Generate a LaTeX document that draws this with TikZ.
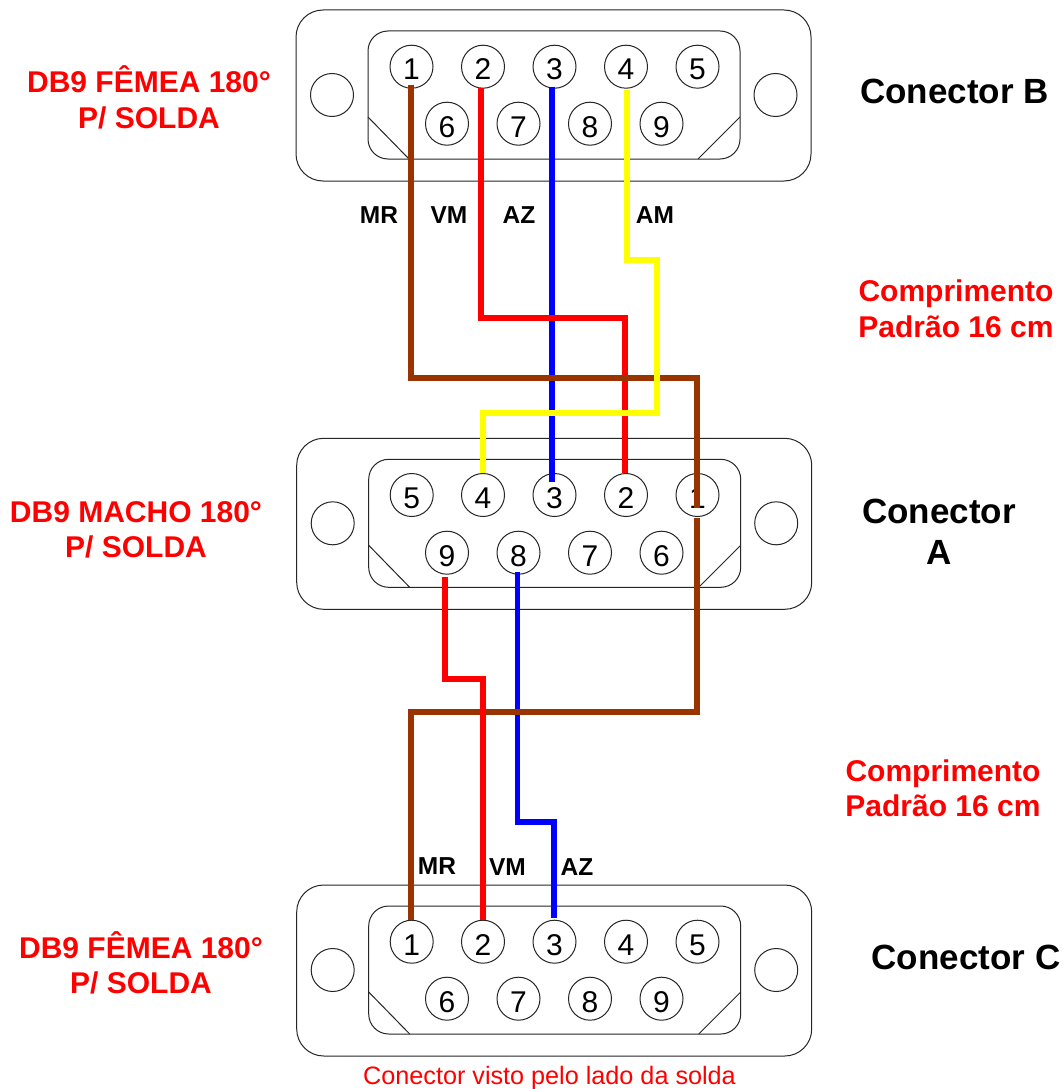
\documentclass[tikz,border=0pt]{standalone}
\usepackage{fontspec}
\setmainfont{Liberation Sans}
\usetikzlibrary{calc}
\definecolor{wbrown}{HTML}{993300}
\definecolor{wred}{HTML}{FF0000}
\definecolor{wblue}{HTML}{0000FF}
\definecolor{wyellow}{HTML}{FFFF00}
\tikzset{
  shell/.style={draw=black!85,line width=1pt,rounded corners=27pt},
  inner shell/.style={draw=black!85,line width=1pt,rounded corners=20pt},
  chamfer/.style={draw=black!85,line width=1pt},
  hole/.style={circle,draw=black!85,line width=1pt,minimum size=43pt,inner sep=0pt},
  pin/.style={circle,draw=black!85,line width=1pt,minimum size=43pt,inner sep=0pt,text height=26.6pt,text depth=0pt,font=\fontsize{30}{30}\selectfont},
  wire/.style={line width=5.5pt,line join=miter},
  wirelabel/.style={font=\fontsize{24.5}{24.5}\selectfont\bfseries,inner sep=0pt},
  redlabel/.style={text=red,font=\fontsize{30}{35.5}\selectfont\bfseries,align=center,inner sep=0pt},
  conname/.style={text=black,font=\fontsize{35}{41}\selectfont\bfseries,align=center,inner sep=0pt},
  note/.style={text=red,font=\fontsize{25.2}{25.2}\selectfont,inner sep=0pt}
}
\newcommand{\connector}[4]{%
  \begin{scope}[shift={(#2,#3)}]
    \draw[shell] (296,10) rectangle (811,181);
    \draw[inner shell] (368,31) rectangle (740,159);
    \draw[chamfer] (368,117) -- (409,159);
    \draw[chamfer] (740,117) -- (698,159);
    \node[hole] (#1hl) at (332,95) {};
    \node[hole] (#1hr) at (775.5,95) {};
    \foreach \n/\x in {#4} {
      \node[pin] (#1\n) at (\x,66.7) {\n};
    }
  \end{scope}}
\begin{document}
\begin{tikzpicture}[x=1pt,y=-1pt]
\useasboundingbox (0,0) rectangle (1064,1089);
\fill[white] (0,0) rectangle (1064,1089);
% Connector B
\connector{b}{0}{0}{1/411.5,2/483,3/554.5,4/626,5/697.5}
\foreach \n/\x in {6/447,7/518.5,8/590,9/661.5} \node[pin] (b\n) at (\x,123.7) {\n};
% Connector A
\connector{a}{0.7}{428.3}{5/411,4/482.3,3/553.8,2/625.3,1/696.8}
\foreach \n/\x in {9/447,8/518.5,7/590,6/661.5} \node[pin] (a\n) at (\x,552.7) {\n};
% Connector C
\connector{c}{0.7}{875}{1/411,2/482.3,3/553.8,4/625.3,5/696.8}
\foreach \n/\x in {6/447,7/518.5,8/590,9/661.5} \node[pin] (c\n) at (\x,998.7) {\n};
% Named bends of the wires
\coordinate (r1) at (625,318);
\coordinate (m1) at (697,378);
\coordinate (y1) at (657,260);
\coordinate (y2) at (483,413);
\coordinate (r2) at (483,679);
\coordinate (b2x) at (554,822);
\coordinate (m2) at (411,712);
% Wires, upper section
\draw[wire,wblue] ([shift={(-2.5,20)}]b3.center) -- ([shift={(-2.5,9)}]a3.north);
\draw[wire,wred] ([shift={(-2,21)}]b2.center) |- (r1) -- (r1 |- a2.north);
\draw[wire,wbrown] ([shift={(-0.5,18)}]b1.center) |- (m1) -- ([yshift=12.5pt*-1]m1 |- a1.center);
\draw[wire,wyellow] ([shift={(1,23)}]b4.center) |- (y1) |- (y2) -- (y2 |- a4.north);
% Wires, lower section
\draw[wire,wblue] ([shift={(-1,19)}]a8.center) |- (b2x) -- ([yshift=2pt]b2x |- c3.north);
\draw[wire,wbrown] ([yshift=-22.5pt]m1 |- a1.center) |- (m2) -- (m2 |- c1.north);
\draw[wire,wred] ([shift={(-2,24.7)}]a9.center) |- (r2) -- (r2 |- c2.north);
% Wire labels
\node[wirelabel] (lmr) at (379,215) {MR};
\node[wirelabel] (lvm) at (449,215) {VM};
\node[wirelabel] (laz) at (519,215) {AZ};
\node[wirelabel] (lam) at (655,215) {AM};
\node[wirelabel] (lmr2) at (437,866) {MR};
\node[wirelabel] (lvm2) at (507.5,867) {VM};
\node[wirelabel] (laz2) at (577,867) {AZ};
% Red labels
\node[redlabel] (tb) at (149,97.5) {DB9 FÊMEA 180°\\P/ SOLDA};
\node[redlabel] (ta) at (136,530) {DB9 MACHO 180°\\P/ SOLDA};
\node[redlabel] (tc) at (141,963) {DB9 FÊMEA 180°\\P/ SOLDA};
\node[redlabel] (l1) at (956,309) {Comprimento\\Padrão 16 cm};
\node[redlabel] (l2) at (943,788.5) {Comprimento\\Padrão 16 cm};
% Connector names
\node[conname] (nb) at (954.5,91) {Conector B};
\node[conname] (na) at (939,531.5) {Conector\\A};
\node[conname] (nc) at (966,957) {Conector C};
\node[note] (nt) at (549.5,1078) {Conector visto pelo lado da solda};
\end{tikzpicture}
\end{document}
